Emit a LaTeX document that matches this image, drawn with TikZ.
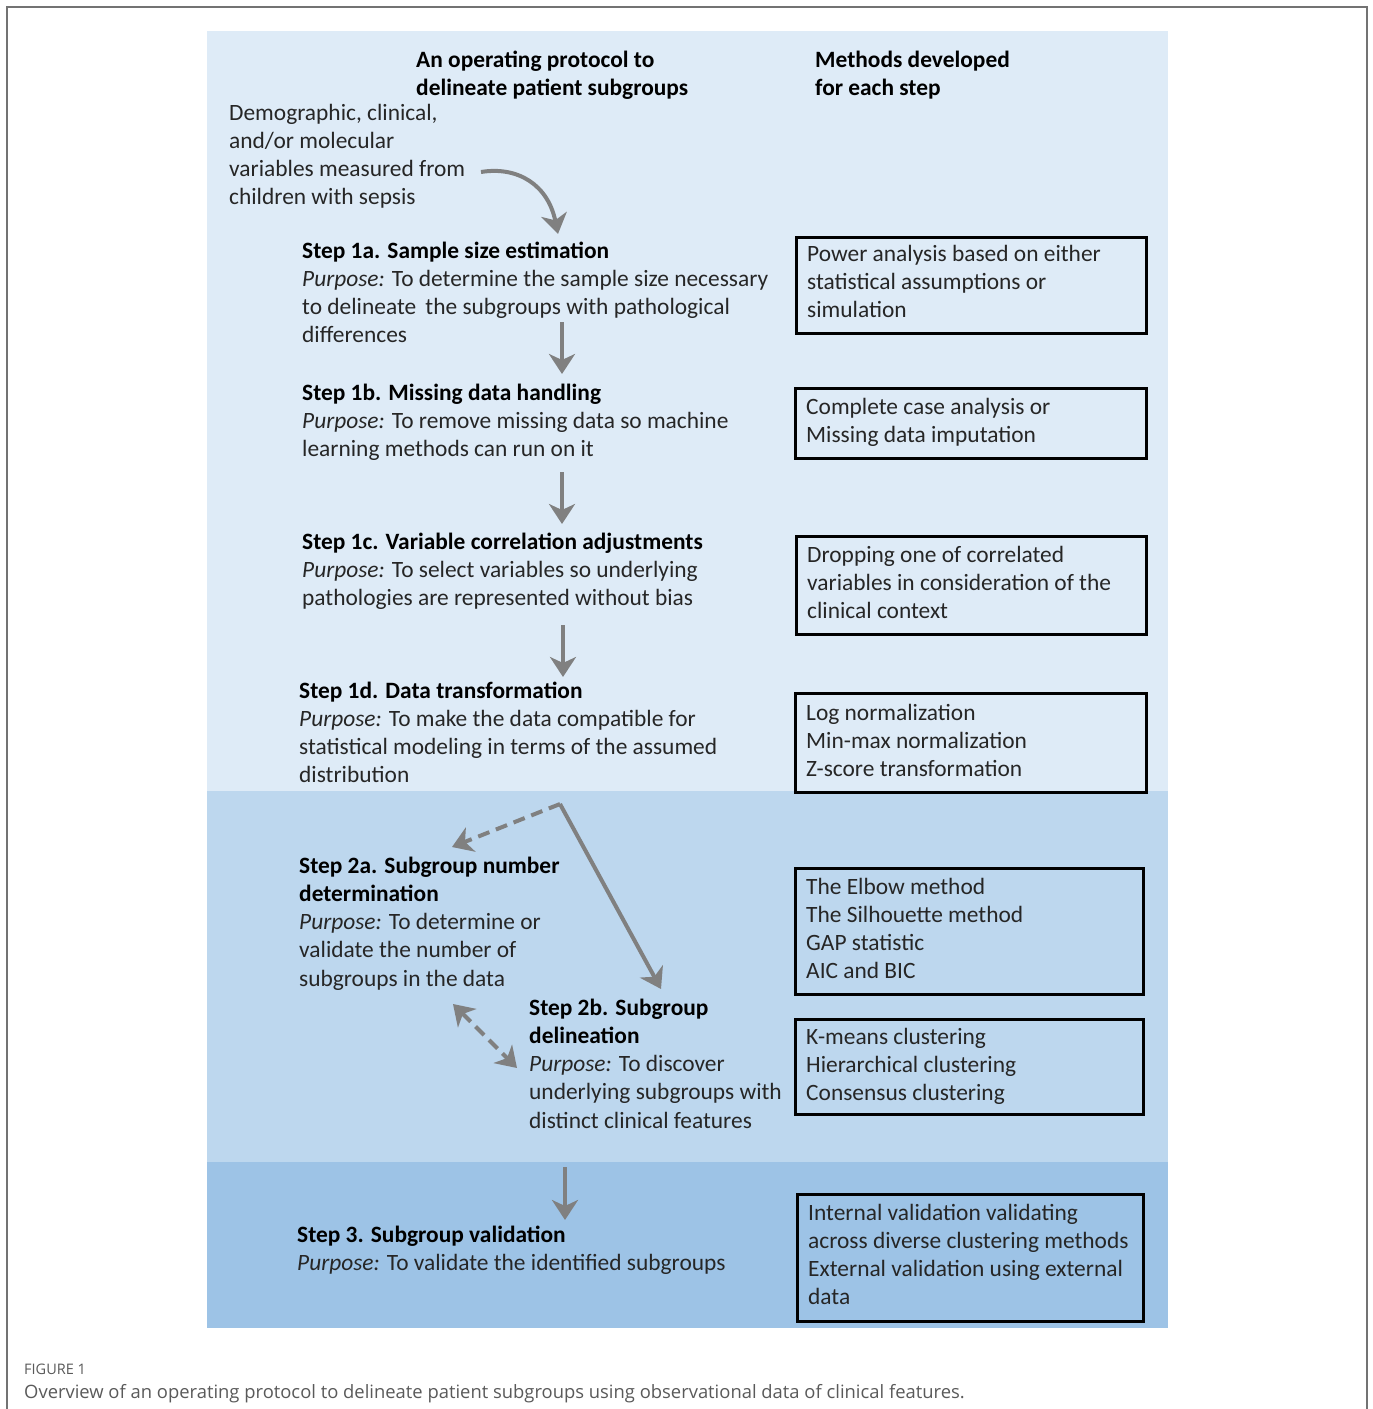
\documentclass[tikz,border=0pt]{standalone}
\usepackage{fontspec}
\setmainfont{Carlito}
\newfontfamily\capfont{Open Sans}
\usetikzlibrary{arrows.meta}
\definecolor{bgA}{HTML}{DEEBF7}
\definecolor{bgB}{HTML}{BDD7EE}
\definecolor{bgC}{HTML}{9DC3E6}
\definecolor{arr}{HTML}{808080}
\definecolor{txt}{HTML}{262626}
\definecolor{capgray}{HTML}{5A5A5A}
\newcommand{\tlines}[1]{\begin{tabular}[t]{@{}l@{}}#1\end{tabular}}
\begin{document}
\begin{tikzpicture}[x=1pt,y=-1pt,
  txtn/.style={anchor=base west, inner sep=0pt, font=\fontsize{23.4}{28.3}\selectfont, text=txt},
  headn/.style={txtn, text=black, font=\fontsize{23.4}{28.8}\selectfont\bfseries},
  methodbox/.style={draw=black, line width=3pt, anchor=north west, inner sep=0pt},
  conn/.style={draw=arr, line width=4pt, -{Stealth[length=20pt,width=26pt,inset=6pt]}},
  dconn/.style={conn, dash pattern=on 12pt off 7pt},
  ddconn/.style={dconn, {Stealth[length=20pt,width=26pt,inset=6pt]}-{Stealth[length=20pt,width=26pt,inset=6pt]}},
]
\useasboundingbox (0,0) rectangle (1373,1409);
\fill[white] (0,0) rectangle (1373,1409);
\draw[draw=gray!90!black, line width=2pt] (7,1409) -- (7,7) -- (1367,7) -- (1367,1409);

% panels
\fill[bgA] (207,31) rectangle (1168,791);
\fill[bgB] (207,791) rectangle (1168,1162);
\fill[bgC] (207,1162) rectangle (1168,1328);

% headers
\node[headn] (hleft) at (416,67) {\tlines{An operating protocol to\\delineate patient subgroups}};
\node[headn] (hright) at (815,67) {\tlines{Methods developed\\for each step}};

% input
\node[txtn] (input) at (229,120) {\tlines{Demographic, clinical,\\and/or molecular\\variables measured from\\children with sepsis}};

% steps
\node[txtn] (s1a) at (302,258) {\tlines{\textbf{\color{black}Step 1a. Sample size estimation}\\\textit{Purpose:} To determine the sample size necessary\\to delineate\, the subgroups with pathological\\differences}};
\node[txtn] (s1b) at (302,400) {\tlines{\textbf{\color{black}Step 1b. Missing data handling}\\\textit{Purpose:} To remove missing data so machine\\learning methods can run on it}};
\node[txtn] (s1c) at (302,549) {\tlines{\textbf{\color{black}Step 1c. Variable correlation adjustments}\\\textit{Purpose:} To select variables so underlying\\pathologies are represented without bias}};
\node[txtn] (s1d) at (299,698) {\tlines{\textbf{\color{black}Step 1d. Data transformation}\\\textit{Purpose:} To make the data compatible for\\statistical modeling in terms of the assumed\\distribution}};
\node[txtn] (s2a) at (299,873) {\tlines{\textbf{\color{black}Step 2a. Subgroup number}\\\textbf{\color{black}determination}\\\textit{Purpose:} To determine or\\validate the number of\\subgroups in the data}};
\node[txtn] (s2b) at (529,1015) {\tlines{\textbf{\color{black}Step 2b. Subgroup}\\\textbf{\color{black}delineation}\\\textit{Purpose:} To discover\\underlying subgroups with\\distinct clinical features}};
\node[txtn] (s3) at (297,1242) {\tlines{\textbf{\color{black}Step 3. Subgroup validation}\\\textit{Purpose:} To validate the identified subgroups}};

% method boxes
\node[methodbox, minimum width=350pt, minimum height=96pt] (m1) at (795,236) {};
\node[methodbox, minimum width=351pt, minimum height=70pt] (m2) at (794,387) {};
\node[methodbox, minimum width=350pt, minimum height=98pt] (m3) at (795,535) {};
\node[methodbox, minimum width=351pt, minimum height=99pt] (m4) at (794,692) {};
\node[methodbox, minimum width=348pt, minimum height=126pt] (m5) at (794,867) {};
\node[methodbox, minimum width=348pt, minimum height=95pt] (m6) at (794,1018) {};
\node[methodbox, minimum width=346pt, minimum height=127pt] (m7) at (796,1193) {};

\node[txtn] (t1) at (807,261) {\tlines{Power analysis based on either\\statistical assumptions or\\simulation}};
\node[txtn] (t2) at (806,414) {\tlines{Complete case analysis or\\Missing data imputation}};
\node[txtn] (t3) at (807,562) {\tlines{Dropping one of correlated\\variables in consideration of the\\clinical context}};
\node[txtn] (t4) at (806,720) {\tlines{Log normalization\\Min-max normalization\\Z-score transformation}};
\node[txtn] (t5) at (806,894) {\tlines{The Elbow method\\The Silhouette method\\GAP statistic\\AIC and BIC}};
\node[txtn] (t6) at (806,1044) {\tlines{K-means clustering\\Hierarchical clustering\\Consensus clustering}};
\node[txtn] (t7) at (808,1220) {\tlines{Internal validation validating\\across diverse clustering methods\\External validation using external\\data}};

% connector coordinates
\coordinate (c0s) at (481,172);
\coordinate (c0e) at (558,234);
\coordinate (c1s) at (562,322);
\coordinate (c1e) at (562,374);
\coordinate (c2s) at (562,472);
\coordinate (c2e) at (562,524);
\coordinate (c3s) at (563,625);
\coordinate (c3e) at (563,677);
\coordinate (v) at (560,804);
\coordinate (c2ae) at (452,847);
\coordinate (c2be) at (661,989);
\coordinate (dd1) at (453,1004);
\coordinate (dd2) at (517,1068);
\coordinate (c4s) at (565,1167);
\coordinate (c4e) at (565,1220);

\draw[conn] (c0s) .. controls (518,166) and (548,185) .. (c0e);
\draw[conn] (c1s) -- (c1e);
\draw[conn] (c2s) -- (c2e);
\draw[conn] (c3s) -- (c3e);
\draw[dconn] (v) -- (c2ae);
\draw[conn] (v) -- (c2be);
\draw[ddconn] (dd1) -- (dd2);
\draw[conn] (c4s) -- (c4e);

% caption
\node[anchor=base west, inner sep=0pt, font=\capfont\fontsize{14.5}{16}\selectfont, text=capgray] (figlabel) at (24,1374) {FIGURE 1};
\node[anchor=base west, inner sep=0pt, font=\capfont\fontsize{18.4}{21}\selectfont, text=capgray] (caption) at (24,1398) {Overview of an operating protocol to delineate patient subgroups using observational data of clinical features.};
\end{tikzpicture}
\end{document}
